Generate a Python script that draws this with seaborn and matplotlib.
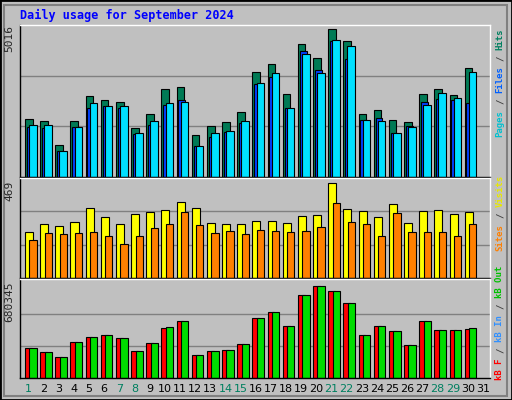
import matplotlib
matplotlib.use("Agg")
import matplotlib.pyplot as plt
import seaborn as sns
import numpy as np
from matplotlib.patches import Rectangle

sns.set_style("white")
plt.rcParams['font.family'] = ['DejaVu Sans Mono', 'DejaVu Sans']

days = [str(d) for d in range(1, 32)]
weekend = {1, 7, 8, 14, 15, 21, 22, 28, 29}
K = 5016 / 455
hits_px = [355,361,433,361,289,301,304,382,340,268,262,403,376,364,334,217,193,283,133,175,88,124,340,328,358,364,283,268,286,205]
files_px = [379,382,451,379,322,316,322,400,373,313,301,436,409,394,367,253,232,322,154,211,124,178,358,352,397,376,304,298,301,307]
pages_px = [373,373,451,379,307,316,316,397,361,307,304,436,397,391,361,250,220,322,163,220,121,139,358,361,397,379,313,280,295,217]
hits = [round((530 - y) * K) for y in hits_px]
files = [round((530 - y) * K) for y in files_px]
pages = [round((530 - y) * K) for y in pages_px]
visits = [221,259,249,268,337,293,259,308,318,328,363,337,264,259,259,274,274,264,298,303,456,333,323,293,357,264,323,328,308,318]
sites = [181,216,211,216,221,204,165,204,239,259,318,253,214,224,209,229,224,220,224,244,358,268,258,204,314,220,220,220,204,258]
KB = 680345 / 285
kb_px = [499,511,526,481,466,460,469,508,484,436,418,520,508,505,487,409,391,433,340,313,328,364,460,433,448,490,418,445,445,439]
kbin = [round((587 - y) * KB) for y in kb_px]
kbf = list(kbin); kbf[9] = round((587 - 439) * KB); kbf[29] = round((587 - 442) * KB)

W, H = 512, 400
fig = plt.figure(figsize=(W/100, H/100), dpi=100)
fig.patch.set_facecolor("#c0c0c0")
fig.patches.append(Rectangle((0, 0), 1, 1, transform=fig.transFigure, fill=False, ec="black", lw=2))
fig.patches.append(Rectangle((4/W, 4/H), 1-9/W, 1-9/H, transform=fig.transFigure, fill=False, ec="#808080", lw=1.5))

def mkax(top, bot):
    ax = fig.add_axes([20/W, 1 - bot/H, 470/W, (bot - top)/H])
    ax.set_facecolor("#c0c0c0")
    ax.set_xlim(0, 31)
    for s in ax.spines.values():
        s.set_color("black"); s.set_linewidth(1)
    ax.spines['right'].set_color("white"); ax.spines['top'].set_color("white")
    ax.set_xticks([]); ax.set_yticks([])
    return ax

x = np.arange(30)
ax1 = mkax(25, 177)
ax1.set_ylim(0, 5016)
for g in (5016/3, 2*5016/3):
    ax1.axhline(g, color="#808080", lw=1, zorder=0)
ax1.bar(x + 0.33, hits, width=0.5, align='edge', color="#007a55", ec="black", lw=0.8)
ax1.bar(x + 0.45, files, width=0.45, align='edge', color="#0040ff", ec="black", lw=0.8)
ax1.bar(x + 0.6, pages, width=0.5, align='edge', color="#00e0ff", ec="black", lw=0.8)

ax2 = mkax(178, 278)
ax2.set_ylim(0, 480)
for g in (160, 320):
    ax2.axhline(g, color="#808080", lw=1, zorder=0)
ax2.bar(x + 0.33, visits, width=0.53, align='edge', color="#ffff00", ec="black", lw=0.8)
ax2.bar(x + 0.62, sites, width=0.48, align='edge', color="#ff8000", ec="black", lw=0.8)

ax3 = mkax(279, 378)
ax3.set_ylim(0, 680345 * 1.03)
for g in (680345/3, 2*680345/3):
    ax3.axhline(g, color="#808080", lw=1, zorder=0)
ax3.bar(x + 0.33, kbf, width=0.45, align='edge', color="#ff0000", ec="black", lw=0.8)
ax3.bar(x + 0.62, kbin, width=0.48, align='edge', color="#00dd00", ec="black", lw=0.8)
ax3.set_xticks(np.arange(31) + 0.55)
ax3.set_xticklabels(days, fontsize=8, family=['DejaVu Sans'])
ax3.tick_params(axis='x', length=0, pad=4)
for lab, d in zip(ax3.get_xticklabels(), range(1, 32)):
    lab.set_color("#008060" if d in weekend else "black")

fig.text(20/W, 1 - 15/H, "Daily usage for September 2024", color="#0000ff",
         fontsize=8.5, fontweight="bold", va="center", ha="left")
for txt, y in (("5016", 25), ("469", 181), ("680345", 282)):
    fig.text(9/W, 1 - y/H, txt, rotation=90, fontsize=8, va="top", ha="center")

STEP = 5.45
def rlabel(parts, ybot):
    y = ybot
    for t, c in parts:
        fig.text(500/W, 1 - y/H, t.strip(), rotation=90, color=c, fontsize=6.5,
                 fontweight="bold", va="bottom", ha="center")
        if t.startswith(" "):
            pass
        y -= len(t) * STEP

def rlabel2(parts, ybot):
    # place each part centered on its character span
    y = ybot
    for t, c in parts:
        span = len(t) * STEP
        if t.strip():
            fig.text(500/W, 1 - (y - span/2)/H, t.strip(), rotation=90, color=c,
                     fontsize=6.5, fontweight="bold", va="center", ha="center")
        y -= span

rlabel2([("Pages", "#00c0d0"), (" / ", "#404040"), ("Files", "#0060ff"), (" / ", "#404040"), ("Hits", "#008060")], 137)
rlabel2([("Sites", "#ff8000"), (" / ", "#404040"), ("Visits", "#e8e800")], 251)
rlabel2([("kB F", "#ff0000"), (" / ", "#404040"), ("kB In", "#3090ff"), (" / ", "#404040"), ("kB Out", "#00c000")], 380)

fig.savefig("out.png", dpi=100, facecolor=fig.get_facecolor())
